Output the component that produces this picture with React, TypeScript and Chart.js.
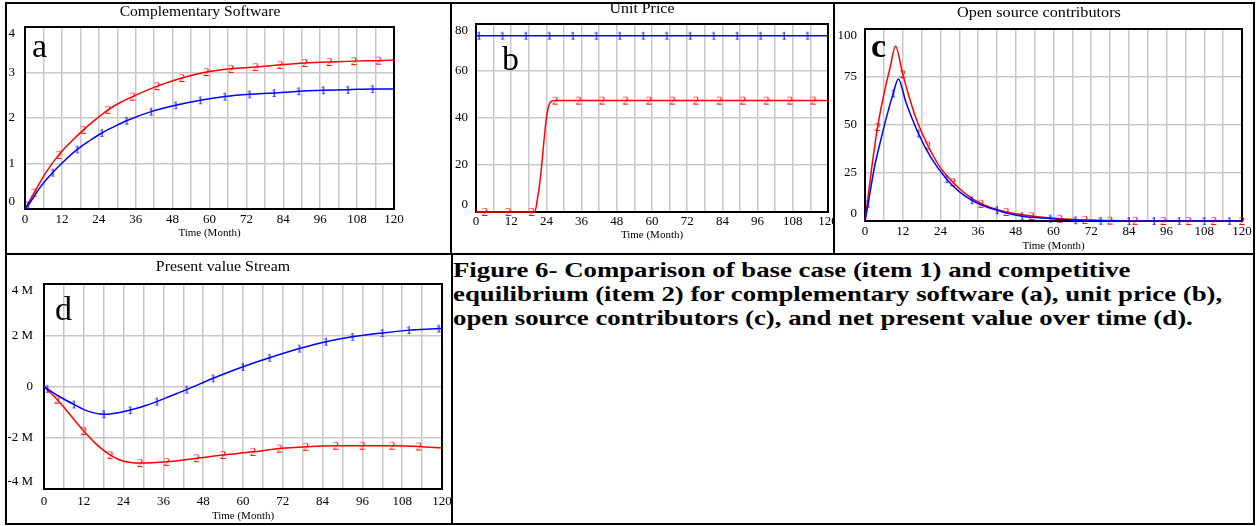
import React, { useEffect, useRef } from 'react';
import { Chart, registerables } from 'chart.js';

Chart.register(...registerables);

const SERIF = '"Liberation Serif", "Times New Roman", serif';
const BLUE = '#0000ff';
const RED = '#ff0000';
const GRID = '#c8c8c8';

// ---------- (a) Complementary Software ----------
const aBlueMonths = [0, 1, 5, 9, 13, 17, 21, 25, 29, 33, 41, 49, 57, 65, 73, 81, 89, 97, 105, 113, 120];
const aBlueValues = [0, 0.08, 0.48, 0.8, 1.07, 1.31, 1.5, 1.67, 1.81, 1.94, 2.14, 2.28, 2.39, 2.47, 2.52, 2.55, 2.59, 2.61, 2.62, 2.64, 2.64];
const aBlueMarks = [1, 9, 17, 25, 33, 41, 49, 57, 65, 73, 81, 89, 97, 105, 113];
const aRedMonths = [0, 3, 7, 11, 15, 19, 23, 27, 31, 35, 43, 51, 59, 67, 75, 83, 91, 99, 107, 115, 120];
const aRedValues = [0, 0.36, 0.82, 1.19, 1.48, 1.74, 1.97, 2.18, 2.34, 2.47, 2.7, 2.88, 3.01, 3.08, 3.12, 3.17, 3.21, 3.23, 3.25, 3.26, 3.27];
const aRedMarks = [3, 11, 19, 27, 35, 43, 51, 59, 67, 75, 83, 91, 99, 107, 115];

// ---------- (b) Unit Price ----------
const bBlueMonths = [0, 1, 9, 17, 25, 33, 41, 49, 57, 65, 73, 81, 89, 97, 105, 113, 120];
const bBlueValues = [75, 75, 75, 75, 75, 75, 75, 75, 75, 75, 75, 75, 75, 75, 75, 75, 75];
const bBlueMarks = [1, 9, 17, 25, 33, 41, 49, 57, 65, 73, 81, 89, 97, 105, 113];
const bRedMonths = [0, 3, 11, 19, 20, 21, 22, 23, 24, 25, 26, 27, 35, 43, 51, 59, 67, 75, 83, 91, 99, 107, 115, 120];
const bRedValues = [0, 0, 0, 0, 0, 6, 15, 28, 40, 46, 47.3, 47.4, 47.4, 47.4, 47.4, 47.4, 47.4, 47.4, 47.4, 47.4, 47.4, 47.4, 47.4, 47.4];
const bRedMarks = [3, 11, 19, 27, 35, 43, 51, 59, 67, 75, 83, 91, 99, 107, 115];

// ---------- (c) Open source contributors ----------
const cBlueMonths = [0, 1, 3, 5, 7, 9, 10.6, 13, 17, 21, 26, 30, 34, 38, 42, 46, 50, 59, 67, 75, 84, 92, 100, 108, 116, 120];
const cBlueValues = [0, 9, 28, 42, 55, 66.5, 74, 62, 45.6, 33, 21.8, 15.3, 10.8, 7.8, 5.6, 3.8, 2.5, 1.3, 0.4, 0.1, 0, 0, 0, 0, 0, 0];
const cBlueMarks = [1, 9, 17, 26, 34, 42, 50, 59, 67, 75, 84, 92, 100, 108, 116];
const cRedMonths = [0, 1, 2, 4, 6, 8, 9.7, 12, 14, 16, 20, 24, 28, 32, 37, 41, 45, 53, 62, 70, 78, 86, 95, 103, 111, 120];
const cRedValues = [0, 13, 26, 49, 66, 80, 91, 76.5, 65, 54.5, 39.3, 27.8, 20.2, 14.2, 9, 6.5, 4.7, 2.6, 1.2, 0.6, 0.2, 0.1, 0, 0, 0, 0];
const cRedMarks = [4, 12, 20, 28, 37, 45, 53, 62, 70, 78, 86, 95, 103, 111, 120];

// ---------- (d) Present value Stream (millions) ----------
const dBlueMonths = [0, 1, 5, 9, 13, 18, 22, 26, 30, 34, 38, 43, 51, 60, 68, 77, 85, 93, 102, 110, 119, 120];
const dBlueValues = [0, -0.09, -0.42, -0.7, -0.95, -1.08, -1.03, -0.92, -0.77, -0.59, -0.38, -0.12, 0.32, 0.77, 1.12, 1.48, 1.75, 1.94, 2.09, 2.2, 2.26, 2.27];
const dBlueMarks = [1, 9, 18, 26, 34, 43, 51, 60, 68, 77, 85, 93, 102, 110, 119];
const dRedMonths = [0, 4, 8, 12, 16, 20, 24, 29, 37, 46, 54, 63, 71, 79, 88, 96, 105, 113, 120];
const dRedValues = [0, -0.51, -1.12, -1.74, -2.28, -2.68, -2.92, -2.99, -2.94, -2.8, -2.67, -2.55, -2.42, -2.35, -2.31, -2.31, -2.31, -2.34, -2.4];
const dRedMarks = [4, 12, 20, 29, 37, 46, 54, 63, 71, 79, 88, 96, 105, 113];

const xTickStep = 6;
const xLabelEvery = 12;

type Series = { months: number[]; values: number[]; marks: number[]; color: string; glyph: string };
type Panel = {
  key: string;
  title: string;
  letter: string;
  canvas: { left: number; top: number; width: number; height: number };
  plot: { L: number; T: number; R: number; B: number };
  yMin: number; yMax: number; yStep: number;
  yFmt: (v: number) => string;
  yGap: number; xPad: number; xTitlePad: number;
  series: Series[];
};

const panels: Panel[] = [
  {
    key: 'a', title: 'Complementary Software', letter: 'a',
    canvas: { left: 8, top: 5, width: 440, height: 236 },
    plot: { L: 25, T: 27, R: 394, B: 209 },
    yMin: 0, yMax: 4, yStep: 1, yFmt: (v) => String(v), yGap: 10, xPad: 3, xTitlePad: 1,
    series: [
      { months: aBlueMonths, values: aBlueValues, marks: aBlueMarks, color: BLUE, glyph: '1' },
      { months: aRedMonths, values: aRedValues, marks: aRedMarks, color: RED, glyph: '2' },
    ],
  },
  {
    key: 'b', title: 'Unit Price', letter: 'b',
    canvas: { left: 452, top: 5, width: 381, height: 238 },
    plot: { L: 476, T: 24, R: 828, B: 212 },
    yMin: 0, yMax: 80, yStep: 20, yFmt: (v) => String(v), yGap: 8, xPad: 2, xTitlePad: 1,
    series: [
      { months: bBlueMonths, values: bBlueValues, marks: bBlueMarks, color: BLUE, glyph: '1' },
      { months: bRedMonths, values: bRedValues, marks: bRedMarks, color: RED, glyph: '2' },
    ],
  },
  {
    key: 'c', title: 'Open source contributors', letter: 'c',
    canvas: { left: 836, top: 5, width: 417, height: 248 },
    plot: { L: 865, T: 29, R: 1242, B: 221 },
    yMin: 0, yMax: 100, yStep: 25, yFmt: (v) => String(v), yGap: 8, xPad: 3, xTitlePad: 0,
    series: [
      { months: cBlueMonths, values: cBlueValues, marks: cBlueMarks, color: BLUE, glyph: '1' },
      { months: cRedMonths, values: cRedValues, marks: cRedMarks, color: RED, glyph: '2' },
    ],
  },
  {
    key: 'd', title: 'Present value Stream', letter: 'd',
    canvas: { left: 8, top: 256, width: 443, height: 267 },
    plot: { L: 44, T: 284, R: 442, B: 489 },
    yMin: -4, yMax: 4, yStep: 2, yFmt: (v) => (v === 0 ? '0' : `${v} M`), yGap: 11, xPad: 5, xTitlePad: 0,
    series: [
      { months: dBlueMonths, values: dBlueValues, marks: dBlueMarks, color: BLUE, glyph: '1' },
      { months: dRedMonths, values: dRedValues, marks: dRedMarks, color: RED, glyph: '2' },
    ],
  },
];

function makeGlyph(text: string, color: string): HTMLCanvasElement {
  const c = document.createElement('canvas');
  c.width = 10;
  c.height = 14;
  const g = c.getContext('2d')!;
  g.font = `13px ${SERIF}`;
  g.fillStyle = color;
  g.textAlign = 'center';
  g.textBaseline = 'middle';
  g.fillText(text, 5, 7.5);
  return c;
}

const framePlugin = {
  id: 'frame',
  beforeDatasetsDraw(chart: any) {
    const { ctx, chartArea: a } = chart;
    ctx.save();
    ctx.strokeStyle = '#000';
    ctx.lineWidth = 2;
    ctx.strokeRect(a.left, a.top, a.right - a.left, a.bottom - a.top);
    ctx.restore();
  },
};

const yLabelPlugin = {
  id: 'yLabels',
  afterDraw(chart: any, _args: any, opts: any) {
    const s = chart.scales.y;
    const ctx = chart.ctx;
    ctx.save();
    ctx.font = `13px ${SERIF}`;
    ctx.fillStyle = '#000';
    ctx.textAlign = 'right';
    ctx.textBaseline = 'middle';
    const n = s.ticks.length;
    s.ticks.forEach((t: any, i: number) => {
      let y = s.getPixelForValue(t.value);
      if (i === 0) y -= opts.nudge;
      if (i === n - 1) y += opts.nudge;
      ctx.fillText(t.label, chart.chartArea.left - opts.gap, y);
    });
    ctx.restore();
  },
};

function PanelChart({ cfg }: { cfg: Panel }) {
  const ref = useRef<HTMLCanvasElement>(null);
  const c = cfg.canvas;
  const p = cfg.plot;
  useEffect(() => {
    const glyphs: Record<string, HTMLCanvasElement> = {
      '1': makeGlyph('1', BLUE),
      '2': makeGlyph('2', RED),
    };
    const chart = new Chart(ref.current!, {
      type: 'line',
      data: {
        datasets: cfg.series.map((s) => ({
          data: s.months.map((m, i) => ({ x: m, y: s.values[i] })),
          borderColor: s.color,
          backgroundColor: s.color,
          borderWidth: 1.5,
          fill: false,
          cubicInterpolationMode: 'monotone' as const,
          pointStyle: glyphs[s.glyph],
          pointRadius: (ctx: any) => (s.marks.includes(s.months[ctx.dataIndex]) ? 4 : 0),
          pointHoverRadius: 0,
          clip: false as any,
        })),
      },
      options: {
        animation: false,
        responsive: false,
        maintainAspectRatio: false,
        events: [],
        layout: {
          padding: { left: 0, top: p.T - c.top, right: c.left + c.width - p.R, bottom: 0 },
        },
        plugins: {
          legend: { display: false },
          tooltip: { enabled: false },
          title: { display: false },
          yLabels: { gap: cfg.yGap, nudge: 7 },
        } as any,
        scales: {
          x: {
            type: 'linear',
            min: 0,
            max: 120,
            afterFit: (s: any) => {
              s.height = c.top + c.height - p.B;
              s.paddingLeft = 0;
              s.paddingRight = 0;
            },
            ticks: {
              stepSize: xTickStep,
              autoSkip: false,
              maxRotation: 0,
              padding: cfg.xPad,
              color: '#000',
              font: { family: SERIF, size: 13 },
              callback: (v: any) => (Number(v) % xLabelEvery === 0 ? String(v) : ''),
            },
            grid: { color: GRID, lineWidth: 1.5, drawTicks: false },
            border: { display: false },
            title: {
              display: true,
              text: 'Time (Month)',
              color: '#000',
              font: { family: SERIF, size: 11 },
              padding: { top: 0, bottom: cfg.xTitlePad },
            },
          },
          y: {
            type: 'linear',
            min: cfg.yMin,
            max: cfg.yMax,
            afterFit: (s: any) => {
              s.width = p.L - c.left;
            },
            ticks: {
              stepSize: cfg.yStep,
              display: false,
              callback: (v: any) => cfg.yFmt(Number(v)),
            },
            grid: { color: GRID, lineWidth: 1.5, drawTicks: false },
            border: { display: false },
          },
        },
      } as any,
      plugins: [framePlugin, yLabelPlugin],
    });
    return () => chart.destroy();
  }, []);
  return (
    <canvas
      ref={ref}
      width={c.width}
      height={c.height}
      style={{ position: 'absolute', left: c.left, top: c.top, width: c.width, height: c.height }}
    />
  );
}

const titlePos: Record<string, { cx: number; cy: number; sx: number }> = {
  a: { cx: 200, cy: 11, sx: 1.04 },
  b: { cx: 642, cy: 8, sx: 1.06 },
  c: { cx: 1039, cy: 12, sx: 1.08 },
  d: { cx: 223, cy: 266, sx: 1.06 },
};
const letterPos: Record<string, { x: number; y: number; bold: boolean }> = {
  a: { x: 32, y: 29, bold: false },
  b: { x: 502, y: 42, bold: false },
  c: { x: 871, y: 29, bold: true },
  d: { x: 55, y: 292, bold: false },
};

const captionLines = [
  'Figure 6- Comparison of base case (item 1) and competitive',
  'equilibrium (item 2) for complementary software (a), unit price (b),',
  'open source contributors (c), and net present value over time (d).',
];

const borders = [
  { left: 5, top: 2, width: 1250, height: 2 },
  { left: 5, top: 523, width: 1250, height: 2 },
  { left: 5, top: 2, width: 2, height: 523 },
  { left: 1253, top: 2, width: 2, height: 523 },
  { left: 5, top: 253, width: 1250, height: 2 },
  { left: 450, top: 2, width: 2, height: 252 },
  { left: 451, top: 253, width: 2, height: 272 },
  { left: 833, top: 2, width: 2, height: 252 },
];

export default function App() {
  const TITLE_SIZE = 15;
  return (
    <div style={{ position: 'absolute', left: 0, top: 0, width: 1257, height: 526, background: '#fff', overflow: 'hidden' }}>
      {panels.map((cfg) => (
        <PanelChart key={cfg.key} cfg={cfg} />
      ))}
      {panels.map((cfg) => (
        <div
          key={'t' + cfg.key}
          style={{
            position: 'absolute',
            left: titlePos[cfg.key].cx - 200,
            width: 400,
            top: titlePos[cfg.key].cy - TITLE_SIZE / 2,
            textAlign: 'center',
            fontFamily: SERIF,
            fontSize: TITLE_SIZE,
            lineHeight: `${TITLE_SIZE}px`,
            whiteSpace: 'nowrap',
            color: '#000',
            transform: `scaleX(${titlePos[cfg.key].sx})`,
            transformOrigin: 'center top',
          }}
        >
          {cfg.title}
        </div>
      ))}
      {panels.map((cfg) => (
        <div
          key={'l' + cfg.key}
          style={{
            position: 'absolute',
            left: letterPos[cfg.key].x,
            top: letterPos[cfg.key].y,
            fontFamily: SERIF,
            fontSize: 34,
            lineHeight: '34px',
            fontWeight: letterPos[cfg.key].bold ? 'bold' : 'normal',
            color: '#000',
          }}
        >
          {cfg.letter}
        </div>
      ))}
      <div
        style={{
          position: 'absolute',
          left: 453,
          top: 258,
          fontFamily: SERIF,
          fontWeight: 'bold',
          fontSize: 22,
          lineHeight: '24px',
          color: '#000',
          whiteSpace: 'nowrap',
          transform: 'scaleX(1.218)',
          transformOrigin: 'left top',
        }}
      >
        {captionLines.map((t, i) => (
          <div key={i}>{t}</div>
        ))}
      </div>
      {borders.map((b, i) => (
        <div key={'b' + i} style={{ position: 'absolute', left: b.left, top: b.top, width: b.width, height: b.height, background: '#000' }} />
      ))}
    </div>
  );
}
